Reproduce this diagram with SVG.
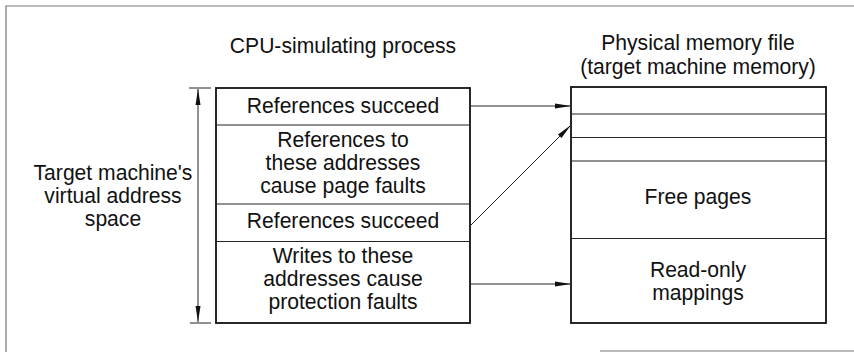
<svg xmlns="http://www.w3.org/2000/svg" width="854" height="352" viewBox="0 0 854 352">
<style>
text{font-family:"Liberation Sans",Arial,sans-serif;font-size:22px;fill:#111;text-anchor:middle;transform-box:fill-box;transform-origin:center;transform:scaleX(0.96)}
.box{fill:none;stroke:#111;stroke-width:1.8}
.div{stroke:#222;stroke-width:1}
.frame{stroke:#777;stroke-width:1.2;fill:none}
.conn{stroke:#222;stroke-width:1;fill:none}
</style>
<defs>
<marker id="ah" viewBox="0 0 16 6" refX="16" refY="3" markerWidth="16" markerHeight="6" markerUnits="userSpaceOnUse" orient="auto-start-reverse">
<path d="M0,0.5 L16,3 L0,5.5 Z" fill="#111"/>
</marker>
</defs>
<g id="frame">
<path class="frame" d="M6,352 V6 H854"/>
<path class="frame" d="M600,351 H854" stroke="#aaa"/>
</g>
<g id="titles">
<text x="343" y="53">CPU-simulating process</text>
<text x="698" y="50">Physical memory file</text>
<text x="698" y="74">(target machine memory)</text>
</g>
<g id="vas-label">
<text x="113" y="180">Target machine's</text>
<text x="113" y="203">virtual address</text>
<text x="113" y="226">space</text>
</g>
<g id="extent">
<line class="conn" x1="189" y1="88" x2="211" y2="88"/>
<line class="conn" x1="190" y1="323" x2="211" y2="323"/>
<line class="conn" x1="198" y1="89" x2="198" y2="322" marker-start="url(#ah)" marker-end="url(#ah)"/>
</g>
<g id="cpu-process">
<rect class="box" x="216" y="88" width="254" height="235"/>
<line class="div" x1="216" y1="125" x2="470" y2="125"/>
<line class="div" x1="216" y1="204" x2="470" y2="204"/>
<line class="div" x1="216" y1="241.5" x2="470" y2="241.5"/>
<text x="343" y="113">References succeed</text>
<text x="343" y="147">References to</text>
<text x="343" y="170">these addresses</text>
<text x="343" y="193">cause page faults</text>
<text x="343" y="228">References succeed</text>
<text x="343" y="263">Writes to these</text>
<text x="343" y="286">addresses cause</text>
<text x="343" y="309">protection faults</text>
</g>
<g id="physical-memory">
<rect class="box" x="571" y="87" width="255" height="236"/>
<line class="div" x1="571" y1="114" x2="826" y2="114"/>
<line class="div" x1="571" y1="137.5" x2="826" y2="137.5"/>
<line class="div" x1="571" y1="161" x2="826" y2="161"/>
<line class="div" x1="571" y1="238.5" x2="826" y2="238.5"/>
<text x="698" y="204">Free pages</text>
<text x="698" y="277">Read-only</text>
<text x="698" y="300">mappings</text>
</g>
<g id="connectors">
<line class="conn" x1="471" y1="106" x2="571" y2="106" marker-end="url(#ah)"/>
<line class="conn" x1="471" y1="225" x2="571" y2="125" marker-end="url(#ah)"/>
<line class="conn" x1="471" y1="284" x2="571" y2="284" marker-end="url(#ah)"/>
</g>
</svg>
